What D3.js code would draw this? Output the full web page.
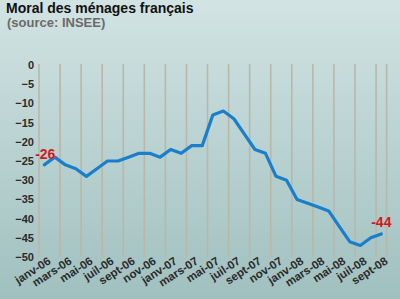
<!DOCTYPE html>
<html><head><meta charset="utf-8">
<script src="https://cdn.jsdelivr.net/npm/d3@7"></script>
<style>html,body{margin:0;padding:0;overflow:hidden;}svg{display:block;}</style>
</head><body>
<script>
const months = ["janv-06","févr-06","mars-06","avr-06","mai-06","juin-06","juil-06","août-06","sept-06","oct-06","nov-06","déc-06",
"janv-07","févr-07","mars-07","avr-07","mai-07","juin-07","juil-07","août-07","sept-07","oct-07","nov-07","déc-07",
"janv-08","févr-08","mars-08","avr-08","mai-08","juin-08","juil-08","août-08","sept-08"];
const values = [-26,-24,-26,-27,-29,-27,-25,-25,-24,-23,-23,-24,
-22,-23,-21,-21,-13,-12,-14,-18,-22,-23,-29,-30,
-35,-36,-37,-38,-42,-46,-47,-45,-44];
const yTicks = [0,-5,-10,-15,-20,-25,-30,-35,-40,-45,-50];
const tickLabels = months.filter((m,i)=>i%2===0);
const title = "Moral des ménages français";
const subtitle = "(source: INSEE)";

const W=400,H=299;
const svg=d3.select("body").append("svg").attr("width",W).attr("height",H);
const defs=svg.append("defs");
const g=defs.append("linearGradient").attr("id","bg").attr("x1",0).attr("y1",0).attr("x2",0).attr("y2",1);
g.append("stop").attr("offset","0%").attr("stop-color","#d2e3e3");
g.append("stop").attr("offset","100%").attr("stop-color","#a0c0bf");
svg.append("rect").attr("width",W).attr("height",H).attr("fill","url(#bg)");

const x=d3.scaleBand().domain(months).range([39,386.6]).padding(0);
const y=d3.scaleLinear().domain([-50,0]).range([257,65]);
const bw=x.bandwidth();

// vertical grid lines
const gridX = tickLabels.map(m=>x(m)).concat([x.range()[1]]);
svg.append("g").selectAll("line").data(gridX).join("line")
  .attr("x1",d=>d).attr("x2",d=>d).attr("y1",y(0)-1).attr("y2",y(-50))
  .attr("stroke","#b9b7a9").attr("stroke-width",1.6);

// y axis
const ya=svg.append("g").attr("transform","translate(39,0)")
  .call(d3.axisLeft(y).tickValues(yTicks).tickSize(0).tickPadding(5));
ya.select(".domain").remove();
ya.selectAll("text").attr("font-family","Liberation Sans, Arial, sans-serif")
  .attr("font-size",11).attr("font-weight","bold").attr("fill","#2a2a2a");

// x labels
const xa=svg.append("g").attr("transform",`translate(0,${y(-50)})`)
  .call(d3.axisBottom(x).tickValues(tickLabels).tickSize(0).tickPadding(0));
xa.select(".domain").remove();
xa.selectAll("text")
  .attr("font-family","Liberation Sans, Arial, sans-serif")
  .attr("font-size",11.5).attr("font-weight","bold").attr("fill","#2a2a2a")
  .attr("text-anchor","end").attr("dy",0).attr("y",0)
  .attr("transform",`translate(${bw/2+2},${6}) rotate(-33)`);

// line
const line=d3.line().x((d,i)=>x(months[i])+bw/2).y(d=>y(d));
svg.append("path").datum(values).attr("d",line).attr("fill","none")
  .attr("stroke","#1a7fcb").attr("stroke-width",3.2).attr("stroke-linejoin","round").attr("stroke-linecap","round");

// end labels
const first=0,last=values.length-1;
svg.append("text").attr("x",x(months[first])+bw/2+1).attr("y",y(values[first])-6)
  .attr("text-anchor","middle").attr("font-family","Liberation Sans, Arial, sans-serif")
  .attr("font-size",14).attr("font-weight","bold").attr("fill","#d11a1f").text(values[first]);
svg.append("text").attr("x",x(months[last])+bw/2).attr("y",y(values[last])-7)
  .attr("text-anchor","middle").attr("font-family","Liberation Sans, Arial, sans-serif")
  .attr("font-size",14).attr("font-weight","bold").attr("fill","#d11a1f").text(values[last]);

// titles
svg.append("text").attr("x",6).attr("y",13).attr("font-family","Liberation Sans, Arial, sans-serif")
  .attr("font-size",14).attr("font-weight","bold").attr("fill","#111").text(title);
svg.append("text").attr("x",7).attr("y",27).attr("font-family","Liberation Sans, Arial, sans-serif")
  .attr("font-size",13).attr("font-weight","bold").attr("fill","#6a6a6a").text(subtitle);
</script>
</body></html>
